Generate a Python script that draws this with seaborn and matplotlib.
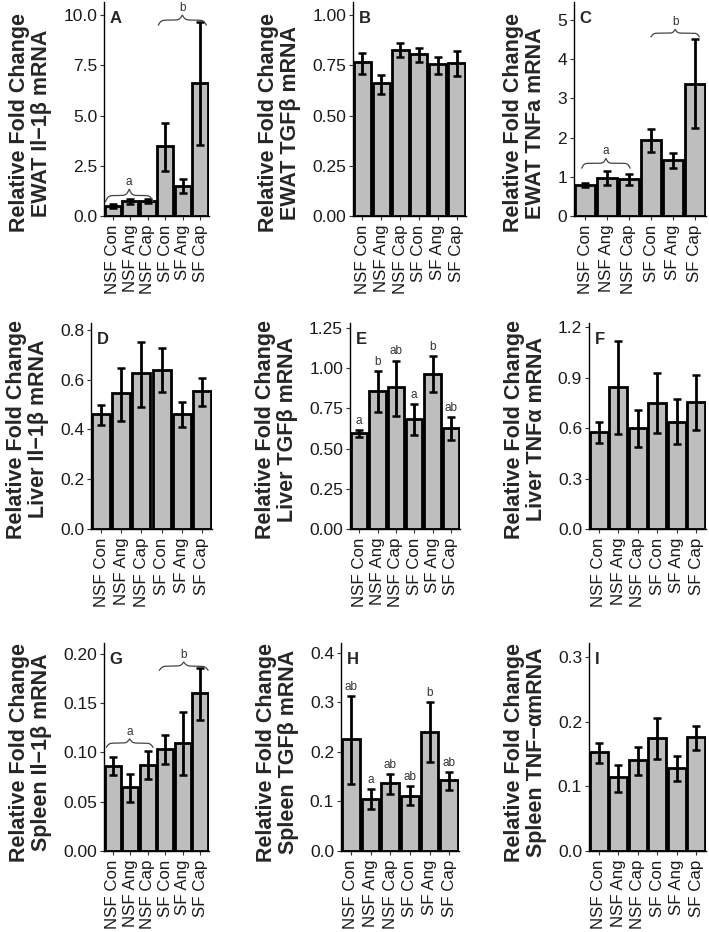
import numpy as np
import matplotlib
matplotlib.use("Agg")
import matplotlib.pyplot as plt
import seaborn as sns
from matplotlib.ticker import FormatStrFormatter, MultipleLocator

# ---- data ----
groups = ["NSF Con", "NSF Ang", "NSF Cap", "SF Con", "SF Ang", "SF Cap"]

# EWAT
ewat_il1b = [0.51, 0.74, 0.77, 3.46, 1.49, 6.63]
ewat_il1b_lo = [0.41, 0.61, 0.66, 2.26, 1.16, 3.52]
ewat_il1b_hi = [0.61, 0.86, 0.87, 4.61, 1.82, 9.67]

ewat_tgfb = [0.766, 0.66, 0.826, 0.804, 0.756, 0.763]
ewat_tgfb_lo = [0.706, 0.607, 0.79, 0.768, 0.706, 0.697]
ewat_tgfb_hi = [0.81, 0.70, 0.86, 0.834, 0.793, 0.823]

ewat_tnfa = [0.79, 0.98, 0.94, 1.94, 1.42, 3.38]
ewat_tnfa_lo = [0.73, 0.79, 0.78, 1.64, 1.22, 2.24]
ewat_tnfa_hi = [0.85, 1.16, 1.07, 2.22, 1.60, 4.52]

# Liver
liver_il1b = [0.463, 0.546, 0.626, 0.64, 0.463, 0.555]
liver_il1b_lo = [0.419, 0.436, 0.49, 0.552, 0.409, 0.495]
liver_il1b_hi = [0.499, 0.646, 0.75, 0.726, 0.512, 0.606]

liver_tgfb = [0.597, 0.856, 0.881, 0.686, 0.966, 0.628]
liver_tgfb_lo = [0.57, 0.73, 0.705, 0.587, 0.854, 0.551]
liver_tgfb_hi = [0.614, 0.98, 1.047, 0.775, 1.074, 0.697]
liver_tgfb_sig = ["a", "b", "ab", "a", "b", "ab"]

liver_tnfa = [0.574, 0.845, 0.598, 0.75, 0.637, 0.756]
liver_tnfa_lo = [0.509, 0.564, 0.486, 0.572, 0.503, 0.588]
liver_tnfa_hi = [0.637, 1.117, 0.707, 0.924, 0.772, 0.914]

# Spleen
spleen_il1b = [0.0864, 0.0644, 0.0875, 0.1034, 0.1095, 0.160]
spleen_il1b_lo = [0.0773, 0.0495, 0.0725, 0.088, 0.0773, 0.1329]
spleen_il1b_hi = [0.0956, 0.078, 0.1017, 0.118, 0.1407, 0.1854]

spleen_tgfb = [0.227, 0.105, 0.138, 0.112, 0.240, 0.143]
spleen_tgfb_lo = [0.136, 0.084, 0.116, 0.092, 0.18, 0.124]
spleen_tgfb_hi = [0.313, 0.125, 0.155, 0.131, 0.30, 0.159]
spleen_tgfb_sig = ["ab", "a", "ab", "ab", "b", "ab"]

spleen_tnfa = [0.1526, 0.1138, 0.1407, 0.1743, 0.129, 0.1759]
spleen_tnfa_lo = [0.1355, 0.092, 0.118, 0.142, 0.1086, 0.156]
spleen_tnfa_hi = [0.167, 0.1335, 0.161, 0.206, 0.147, 0.194]

W, H = 709, 932


def draw_brace(ax, x0, x1, y0, y1, label):
    # curly brace from x0 to x1, tips at y0, middle peak at y1
    t = np.linspace(0, 0.5, 150)
    k = 9.0 / (x1 - x0) * 10
    half = 1 / (1 + np.exp(-k * (t - t[0]))) + 1 / (1 + np.exp(-k * (t - t[-1])))
    shape = np.concatenate([half, half[-2::-1]])
    xs = np.linspace(x0, x1, len(shape))
    ys = y0 + (y1 - y0) * (shape - shape.min()) / (shape.max() - shape.min())
    ax.plot(xs, ys, color="#444444", lw=0.9, zorder=5)
    ax.annotate(label, xy=((x0 + x1) / 2, y1), xytext=(0, 3), textcoords="offset points",
                ha="center", va="baseline", fontsize=8.5, color="#333333")


sns.set_style("ticks")
plt.rcParams["font.family"] = ["Liberation Sans", "DejaVu Sans"]

fig = plt.figure(figsize=(W / 100, H / 100), dpi=100)

panels = [
    # box px (left, top, right, bottom), values, ylabel, letter, ytop, step, fmt, sig, braces, label y
    ((104, 2, 209, 216), ewat_il1b, ewat_il1b_lo, ewat_il1b_hi,
     "Relative Fold Change\nEWAT Il\u22121\u03b2 mRNA", "A", 10.65, 2.5, "%.1f", None,
     [(-0.42, 2.3, 0.71, 1.33, "a"), (2.6, 5.35, 9.5, 10.0, "b")], 0.435),
    ((353, 2, 466, 216), ewat_tgfb, ewat_tgfb_lo, ewat_tgfb_hi,
     "Relative Fold Change\nEWAT TGF\u03b2 mRNA", "B", 1.065, 0.25, "%.2f", None, [], 0.435),
    ((574, 2, 706, 216), ewat_tnfa, ewat_tnfa_lo, ewat_tnfa_hi,
     "Relative Fold Change\nEWAT TNFa mRNA", "C", 5.46, 1, "%d", None,
     [(-0.15, 2.05, 1.22, 1.47, "a"), (3.0, 5.2, 4.57, 4.76, "b")], 0.435),
    ((91, 323, 212, 529), liver_il1b, liver_il1b_lo, liver_il1b_hi,
     "Relative Fold Change\nLiver Il\u22121\u03b2 mRNA", "D", 0.828, 0.2, "%.1f", None, [], 0.485),
    ((350, 323, 460, 529), liver_tgfb, liver_tgfb_lo, liver_tgfb_hi,
     "Relative Fold Change\nLiver TGF\u03b2 mRNA", "E", 1.281, 0.25, "%.2f", liver_tgfb_sig, [], 0.485),
    ((589, 323, 706, 529), liver_tnfa, liver_tnfa_lo, liver_tnfa_hi,
     "Relative Fold Change\nLiver TNF\u03b1 mRNA", "F", 1.224, 0.3, "%.1f", None, [], 0.485),
    ((104, 643, 209, 851), spleen_il1b, spleen_il1b_lo, spleen_il1b_hi,
     "Relative Fold Change\nSpleen Il\u22121\u03b2 mRNA", "G", 0.2107, 0.05, "%.2f", None,
     [(-0.37, 2.3, 0.105, 0.1136, "a"), (2.66, 5.45, 0.183, 0.1915, "b")], 0.475),
    ((341, 643, 459, 851), spleen_tgfb, spleen_tgfb_lo, spleen_tgfb_hi,
     "Relative Fold Change\nSpleen TGF\u03b2 mRNA", "H", 0.42, 0.1, "%.1f", spleen_tgfb_sig, [], 0.475),
    ((589, 643, 706, 851), spleen_tnfa, spleen_tnfa_lo, spleen_tnfa_hi,
     "Relative Fold Change\nSpleen TNF\u2212\u03b1mRNA", "I", 0.322, 0.1, "%.1f", None, [], 0.475),
]

for (box, mean, lo, hi, ylab, letter, ytop, step, fmt, sig, braces, laby) in panels:
    l, t, r, b = box
    ax = fig.add_axes([l / W, 1 - b / H, (r - l) / W, (b - t) / H])
    sns.barplot(x=groups, y=mean, ax=ax, color="#bebebe", edgecolor="black",
                linewidth=2.0, width=0.9, saturation=1, errorbar=None)
    xpos = np.arange(len(groups))
    m = np.array(mean)
    ax.errorbar(xpos, m, yerr=[m - np.array(lo), np.array(hi) - m], fmt="none",
                ecolor="black", elinewidth=2.0, capsize=3, capthick=1.8, zorder=4)

    ax.set_xlim(-0.5, 5.5)
    ax.set_ylim(0, ytop)
    ax.yaxis.set_major_locator(MultipleLocator(step))
    ax.yaxis.set_major_formatter(FormatStrFormatter(fmt))
    ax.set_xticks(xpos)
    ax.set_xticklabels(groups, rotation=90)
    ax.tick_params(axis="both", length=3, width=0.8, color="#333333",
                   labelsize=12.5, labelcolor="#1a1a1a", pad=2)
    ax.tick_params(axis="x", pad=3, labelsize=12.2)
    sns.despine(ax=ax)
    for s in ["left", "bottom"]:
        ax.spines[s].set_linewidth(1.0)
        ax.spines[s].set_color("black")

    ax.set_xlabel("")
    ax.set_ylabel(ylab, fontsize=15.5, fontweight="bold", labelpad=8, linespacing=1.05)
    ax.yaxis.label.set_y(laby)

    ax.annotate(letter, xy=(0, 1), xycoords="axes fraction", xytext=(4, -12),
                textcoords="offset points", ha="left", va="center",
                fontsize=12, fontweight="bold")

    if sig is not None:
        for i, s in enumerate(sig):
            ax.annotate(s, xy=(i, hi[i]), xytext=(0, 4.5), textcoords="offset points",
                        ha="center", va="baseline", fontsize=8.5, color="#333333")

    for (x0, x1, y0, y1, lab) in braces:
        draw_brace(ax, x0, x1, y0, y1, lab)

fig.savefig("out.png", dpi=100)
